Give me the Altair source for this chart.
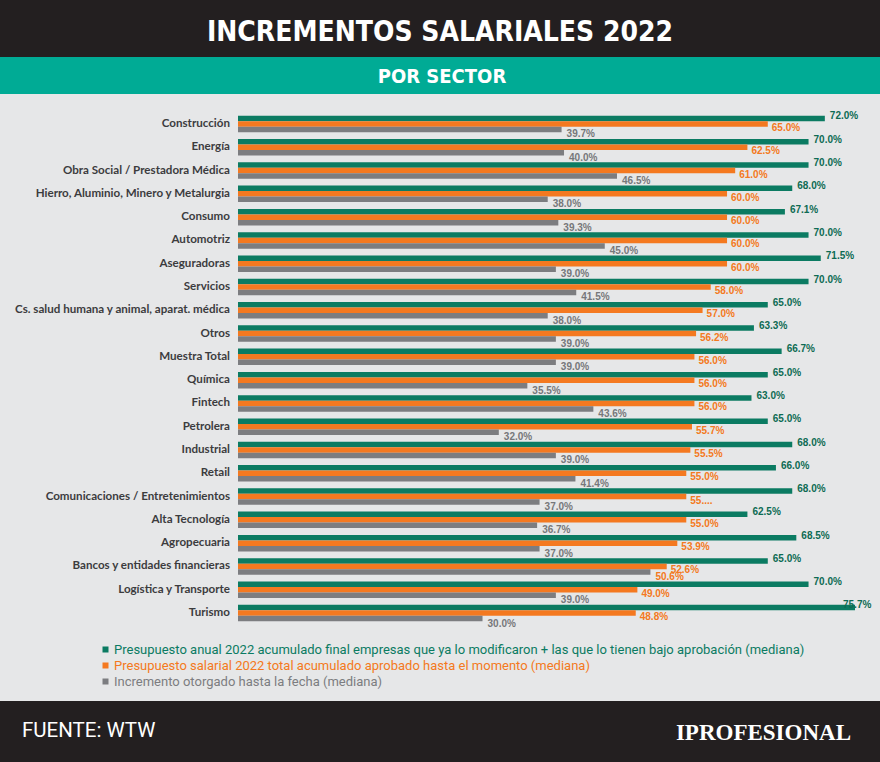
import altair as alt
import pandas as pd

sectors = [
    "Construcción", "Energía", "Obra Social / Prestadora Médica",
    "Hierro, Aluminio, Minero y Metalurgia", "Consumo", "Automotriz",
    "Aseguradoras", "Servicios", "Cs. salud humana y animal, aparat. médica",
    "Otros", "Muestra Total", "Química", "Fintech", "Petrolera", "Industrial",
    "Retail", "Comunicaciones / Entretenimientos", "Alta Tecnología",
    "Agropecuaria", "Bancos y entidades financieras", "Logística y Transporte",
    "Turismo",
]
green = [72.0, 70.0, 70.0, 68.0, 67.1, 70.0, 71.5, 70.0, 65.0, 63.3, 66.7,
         65.0, 63.0, 65.0, 68.0, 66.0, 68.0, 62.5, 68.5, 65.0, 70.0, 75.7]
orange = [65.0, 62.5, 61.0, 60.0, 60.0, 60.0, 60.0, 58.0, 57.0, 56.2, 56.0,
          56.0, 56.0, 55.7, 55.5, 55.0, 55.0, 55.0, 53.9, 52.6, 49.0, 48.8]
gray = [39.7, 40.0, 46.5, 38.0, 39.3, 45.0, 39.0, 41.5, 38.0, 39.0, 39.0,
        35.5, 43.6, 32.0, 39.0, 41.4, 37.0, 36.7, 37.0, 50.6, 39.0, 30.0]

series_names = [
    "Presupuesto anual 2022 acumulado final empresas que ya lo modificaron + las que lo tienen bajo aprobación (mediana)",
    "Presupuesto salarial 2022 total acumulado aprobado hasta el momento (mediana)",
    "Incremento otorgado hasta la fecha (mediana)",
]
bar_colors = ["#0B7B62", "#F47920", "#7C7D80"]
text_colors = ["#0D6B53", "#F47920", "#76777A"]

# label quirks seen in the original
label_text_override = {("Comunicaciones / Entretenimientos", 1): "55...."}
label_color_override = {("Bancos y entidades financieras", 2): "#F47920"}

title = "INCREMENTOS SALARIALES 2022"
subtitle = "POR SECTOR"
source = "FUENTE: WTW"
brand = "IPROFESIONAL"

rows = []
for i, s in enumerate(sectors):
    for k, vals in enumerate([green, orange, gray]):
        v = vals[i]
        rows.append({
            "sector": s,
            "series": series_names[k],
            "k": k,
            "value": v,
            "label": label_text_override.get((s, k), f"{v:.1f}%"),
            "tcolor": label_color_override.get((s, k), text_colors[k]),
        })
df = pd.DataFrame(rows)

W, H = 880, 762
COND = "DejaVu Sans Condensed"
xscale = alt.Scale(domain=[0, 75.7], range=[238, 855], nice=False, zero=True)
yscale = alt.Scale(domain=sectors, range=[112.35, 624.65], paddingInner=0, paddingOuter=0)
yoff_scale = alt.Scale(domain=series_names, paddingInner=0, paddingOuter=0.618)

y_enc = alt.Y("sector:N", scale=yscale, axis=None, sort=sectors)
yoff_enc = alt.YOffset("series:N", scale=yoff_scale, sort=series_names)

bars = alt.Chart(df).mark_bar().encode(
    x=alt.X("value:Q", scale=xscale, axis=None),
    x2=alt.datum(0),
    y=y_enc,
    yOffset=yoff_enc,
    color=alt.Color(
        "series:N",
        scale=alt.Scale(domain=series_names, range=bar_colors),
        sort=series_names,
        legend=alt.Legend(
            orient="none", legendX=99, legendY=643, direction="vertical",
            title=None, symbolType="square", symbolSize=36,
            symbolStrokeWidth=0, symbolOpacity=1,
            labelFont="Roboto", labelFontSize=13,
            labelLimit=1000, labelOffset=2, rowPadding=2, padding=0,
            labelColor={"expr": "scale('color', datum.value)"},
        ),
    ),
)

def value_labels(data, dx, dy):
    return alt.Chart(data).mark_text(
        align="left", baseline="middle", dx=dx, dy=dy,
        font="Liberation Sans", fontWeight="bold", fontSize=10,
    ).encode(
        x=alt.X("value:Q", scale=xscale, axis=None),
        y=y_enc,
        yOffset=yoff_enc,
        text="label:N",
        color=alt.Color("tcolor:N", scale=None),
    )

last = sectors[-1]
g = df[df["k"] == 0]
lab_g = value_labels(g[g["sector"] != last], 5, -2)
lab_g_last = value_labels(g[g["sector"] == last], -12, -3)
lab_o = value_labels(df[df["k"] == 1], 4, 4)
lab_y = value_labels(df[df["k"] == 2], 5, 5)

cats = alt.Chart(pd.DataFrame({"sector": sectors})).mark_text(
    align="right", baseline="middle", font="Lato", fontWeight="bold",
    fontSize=11.6, color="#3C3C3E",
).encode(
    x=alt.value(230),
    y=y_enc,
    text="sector:N",
)

one = pd.DataFrame({"a": [0]})
head_band = alt.Chart(one).mark_rect(color="#231F20").encode(
    x=alt.value(0), x2=alt.value(W), y=alt.value(0), y2=alt.value(57))
sub_band = alt.Chart(one).mark_rect(color="#00AB95").encode(
    x=alt.value(0), x2=alt.value(W), y=alt.value(57), y2=alt.value(94))
foot_band = alt.Chart(one).mark_rect(color="#231F20").encode(
    x=alt.value(0), x2=alt.value(W), y=alt.value(701), y2=alt.value(H))

title_t = alt.Chart(pd.DataFrame({"t": [title]})).mark_text(
    font=COND, fontWeight="bold", fontSize=28,
    color="white", align="center", baseline="middle",
).encode(x=alt.value(440), y=alt.value(33), text="t:N")
sub_t = alt.Chart(pd.DataFrame({"t": [subtitle]})).mark_text(
    font=COND, fontWeight="bold", fontSize=20,
    color="white", align="center", baseline="middle",
).encode(x=alt.value(442), y=alt.value(77), text="t:N")
src_t = alt.Chart(pd.DataFrame({"t": [source]})).mark_text(
    font="Roboto", fontSize=20.5,
    color="white", align="left", baseline="middle",
).encode(x=alt.value(22), y=alt.value(731), text="t:N")
brand_t = alt.Chart(pd.DataFrame({"t": [brand]})).mark_text(
    font="Liberation Serif", fontWeight="bold", fontSize=23,
    color="white", align="right", baseline="middle",
).encode(x=alt.value(851), y=alt.value(733), text="t:N")

chart = alt.layer(
    head_band, sub_band, foot_band, title_t, sub_t, src_t, brand_t,
    bars, lab_g, lab_g_last, lab_o, lab_y, cats,
).properties(
    width=W, height=H, padding=0, autosize="none", background="#E6E7E8",
).configure_view(stroke=None)

chart.save("out.html", embed_options={"renderer": "svg", "actions": False})
